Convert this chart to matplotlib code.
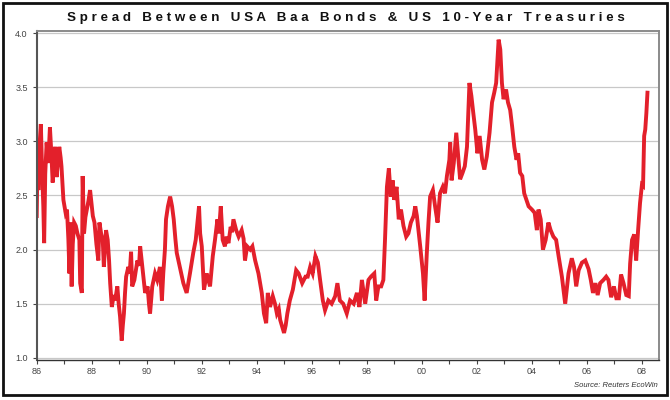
import matplotlib
matplotlib.use("Agg")
import matplotlib.pyplot as plt
from matplotlib.patches import Rectangle

# Baa corporate yield minus 10-year Treasury yield (percentage points)
years = [
    1986.00, 1986.03, 1986.06, 1986.10, 1986.15, 1986.20, 1986.24, 1986.27, 1986.31, 1986.36,
    1986.42, 1986.48, 1986.53, 1986.58, 1986.63, 1986.67, 1986.72, 1986.77, 1986.82, 1986.87,
    1986.90, 1986.97, 1987.01, 1987.05, 1987.10, 1987.15, 1987.19, 1987.22, 1987.27, 1987.31,
    1987.36, 1987.42, 1987.48, 1987.55, 1987.58, 1987.64, 1987.67, 1987.72, 1987.77, 1987.82,
    1987.88, 1987.94, 1988.00, 1988.04, 1988.10, 1988.17, 1988.24, 1988.28, 1988.34, 1988.40,
    1988.44, 1988.52, 1988.58, 1988.63, 1988.67, 1988.73, 1988.80, 1988.85, 1988.93, 1988.98,
    1989.03, 1989.09, 1989.13, 1989.17, 1989.21, 1989.25, 1989.33, 1989.38, 1989.43, 1989.47,
    1989.55, 1989.60, 1989.66, 1989.72, 1989.76, 1989.84, 1989.90, 1989.94, 1990.03, 1990.08,
    1990.12, 1990.20, 1990.30, 1990.38, 1990.48, 1990.55, 1990.60, 1990.66, 1990.70, 1990.77,
    1990.85, 1990.92, 1990.98, 1991.04, 1991.09, 1991.20, 1991.33, 1991.45, 1991.57, 1991.69,
    1991.78, 1991.90, 1991.94, 1992.00, 1992.08, 1992.18, 1992.30, 1992.40, 1992.48, 1992.57,
    1992.62, 1992.69, 1992.76, 1992.84, 1992.90, 1992.97, 1993.05, 1993.10, 1993.15, 1993.25,
    1993.34, 1993.45, 1993.52, 1993.57, 1993.65, 1993.76, 1993.84, 1993.94, 1994.06, 1994.18,
    1994.26, 1994.34, 1994.40, 1994.48, 1994.58, 1994.66, 1994.73, 1994.80, 1994.85, 1994.99,
    1995.05, 1995.11, 1995.20, 1995.31, 1995.43, 1995.52, 1995.65, 1995.77, 1995.85, 1995.94,
    1996.03, 1996.13, 1996.22, 1996.30, 1996.40, 1996.48, 1996.60, 1996.72, 1996.85, 1996.93,
    1997.02, 1997.14, 1997.27, 1997.39, 1997.52, 1997.64, 1997.73, 1997.82, 1997.94, 1998.06,
    1998.15, 1998.27, 1998.34, 1998.42, 1998.52, 1998.60, 1998.66, 1998.73, 1998.80, 1998.87,
    1998.94, 1998.99, 1999.08, 1999.16, 1999.24, 1999.33, 1999.43, 1999.51, 1999.60, 1999.70,
    1999.76, 1999.82, 1999.94, 2000.04, 2000.10, 2000.18, 2000.24, 2000.30, 2000.40, 2000.48,
    2000.57, 2000.66, 2000.76, 2000.84, 2000.91, 2001.00, 2001.03, 2001.08, 2001.16, 2001.25,
    2001.32, 2001.39, 2001.48, 2001.56, 2001.64, 2001.73, 2001.80, 2001.87, 2001.94, 2002.02,
    2002.10, 2002.19, 2002.27, 2002.36, 2002.46, 2002.55, 2002.63, 2002.70, 2002.79, 2002.85,
    2002.91, 2002.97, 2003.06, 2003.13, 2003.21, 2003.28, 2003.36, 2003.44, 2003.50, 2003.57,
    2003.65, 2003.72, 2003.80, 2003.88, 2004.00, 2004.10, 2004.18, 2004.24, 2004.32, 2004.40,
    2004.50, 2004.60, 2004.68, 2004.78, 2004.88, 2004.97, 2005.09, 2005.21, 2005.33, 2005.45,
    2005.53, 2005.61, 2005.70, 2005.82, 2005.94, 2006.06, 2006.14, 2006.22, 2006.31, 2006.39,
    2006.48, 2006.60, 2006.70, 2006.78, 2006.88, 2006.98, 2007.07, 2007.16, 2007.24, 2007.33,
    2007.43, 2007.52, 2007.57, 2007.64, 2007.72, 2007.79, 2007.86, 2007.93, 2008.00, 2008.04,
    2008.08, 2008.12, 2008.16, 2008.20,
]
spread = [
    2.31, 2.83, 2.55, 2.95, 3.16, 2.70, 2.40, 2.06, 2.70, 2.99,
    2.80, 3.13, 2.90, 2.62, 2.80, 2.95, 2.67, 2.80, 2.95, 2.85,
    2.77, 2.46, 2.40, 2.34, 2.37, 2.10, 1.78, 2.25, 1.66, 2.05,
    2.25, 2.22, 2.15, 2.09, 1.69, 1.60, 2.68, 2.15, 2.30, 2.37,
    2.45, 2.55, 2.40, 2.31, 2.25, 2.05, 1.90, 2.25, 2.15, 2.09,
    1.84, 2.18, 2.09, 1.90, 1.69, 1.47, 1.58, 1.53, 1.66, 1.50,
    1.38, 1.16, 1.30, 1.41, 1.60, 1.75, 1.84, 1.78, 1.98, 1.66,
    1.72, 1.80, 1.90, 1.85, 2.03, 1.84, 1.70, 1.60, 1.66, 1.50,
    1.41, 1.66, 1.78, 1.72, 1.84, 1.53, 1.78, 2.00, 2.28, 2.40,
    2.49, 2.40, 2.28, 2.10, 1.97, 1.84, 1.69, 1.60, 1.78, 1.97,
    2.09, 2.40, 2.15, 2.03, 1.63, 1.78, 1.66, 1.94, 2.09, 2.28,
    2.15, 2.40, 2.09, 2.03, 2.12, 2.06, 2.21, 2.16, 2.28, 2.18,
    2.12, 2.18, 2.10, 1.90, 2.03, 2.00, 2.03, 1.90, 1.78, 1.60,
    1.41, 1.32, 1.60, 1.47, 1.57, 1.50, 1.41, 1.45, 1.35, 1.23,
    1.30, 1.41, 1.53, 1.63, 1.81, 1.78, 1.69, 1.75, 1.75, 1.84,
    1.78, 1.94, 1.88, 1.72, 1.53, 1.44, 1.53, 1.50, 1.57, 1.69,
    1.53, 1.50, 1.41, 1.53, 1.50, 1.60, 1.47, 1.72, 1.50, 1.72,
    1.75, 1.78, 1.53, 1.66, 1.66, 1.72, 2.09, 2.58, 2.75, 2.49,
    2.64, 2.46, 2.58, 2.28, 2.37, 2.22, 2.12, 2.15, 2.25, 2.31,
    2.40, 2.31, 2.03, 1.78, 1.53, 1.97, 2.25, 2.49, 2.55, 2.40,
    2.25, 2.52, 2.58, 2.52, 2.68, 2.83, 2.99, 2.64, 2.80, 3.08,
    2.86, 2.65, 2.71, 2.77, 2.95, 3.54, 3.42, 3.26, 3.11, 2.89,
    3.05, 2.83, 2.74, 2.86, 3.08, 3.36, 3.45, 3.54, 3.94, 3.85,
    3.54, 3.39, 3.48, 3.36, 3.29, 3.14, 2.95, 2.83, 2.89, 2.71,
    2.68, 2.52, 2.46, 2.40, 2.37, 2.34, 2.18, 2.37, 2.28, 2.00,
    2.09, 2.25, 2.18, 2.12, 2.09, 1.94, 1.75, 1.50, 1.78, 1.92,
    1.84, 1.66, 1.81, 1.88, 1.90, 1.82, 1.72, 1.60, 1.69, 1.58,
    1.69, 1.72, 1.75, 1.72, 1.56, 1.66, 1.55, 1.55, 1.77, 1.69,
    1.58, 1.57, 1.87, 2.09, 2.14, 1.90, 2.18, 2.43, 2.60, 2.59,
    3.05, 3.11, 3.26, 3.45,
]

x_ticks = list(range(1986, 2009))
x_labels = [f"{y % 100:02d}" if y % 2 == 0 else "" for y in x_ticks]
y_ticks = [1.0, 1.5, 2.0, 2.5, 3.0, 3.5, 4.0]

title = "Spread Between USA Baa Bonds & US 10-Year Treasuries"
source = "Source: Reuters EcoWin"

plt.rcParams['font.family'] = ['Liberation Sans', 'DejaVu Sans']

fig = plt.figure(figsize=(6.7, 4.0), dpi=100)
ax = fig.add_axes([0.0548, 0.10, 0.9288, 0.8225])

ax.plot(years, spread, color='#E3202B', linewidth=2.8, solid_joinstyle='miter')

ax.set_xlim(1986.0, 2008.62)
ax.set_ylim(0.98, 4.02)
ax.set_xticks(x_ticks)
ax.set_xticklabels(x_labels)
ax.set_yticks(y_ticks)
ax.set_yticklabels([f"{v:.1f}" for v in y_ticks])

ax.grid(axis='y', color='#c8c8c8', linewidth=0.9)
ax.set_axisbelow(True)
ax.tick_params(axis='both', labelsize=6.5, colors='#444444', length=3, width=0.8)
ax.tick_params(axis='x', pad=2)

for side in ['top', 'right']:
    ax.spines[side].set_color('#8a8a8a')
    ax.spines[side].set_linewidth(1.4)
ax.spines['left'].set_color('#555555')
ax.spines['left'].set_linewidth(1.5)
ax.spines['bottom'].set_color('#333333')
ax.spines['bottom'].set_linewidth(1.0)

fig.text(0.516, 0.956, " ".join(title), ha='center', va='center',
         fontsize=9.6, fontweight='bold', color='#111111')
fig.text(0.982, 0.037, source, ha='right', va='center',
         fontsize=5.5, style='italic', color='#333333')

# outer frame around the whole picture
fig.patches.append(Rectangle((0.004, 0.012), 0.991, 0.98, transform=fig.transFigure,
                             fill=False, edgecolor='#111111', linewidth=2.0))

fig.savefig("out.png", dpi=100)
